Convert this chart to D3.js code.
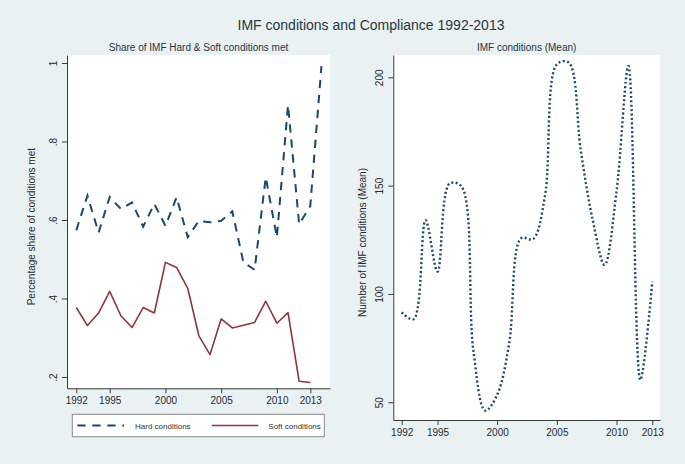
<!DOCTYPE html>
<html>
<head>
<meta charset="utf-8">
<script src="https://cdn.jsdelivr.net/npm/d3@7"></script>
<style>
  html, body { margin: 0; padding: 0; background: #e9f1f3; }
  svg { display: block; font-family: "Liberation Sans", Arial, sans-serif; }
</style>
</head>
<body>
<svg id="chart" width="685" height="464"></svg>
<script>
// ---- data ----
const years = [1992,1993,1994,1995,1996,1997,1998,1999,2000,2001,2002,2003,2004,2005,2006,2007,2008,2009,2010,2011,2012,2013];
const hardYears = [1992,1993,1994,1995,1996,1997,1998,1999,2000,2001,2002,2003,2004,2005,2006,2007,2008,2009,2010,2011,2012,2013,2014];
const hardShare = [0.574,0.662,0.568,0.659,0.628,0.645,0.583,0.641,0.585,0.658,0.556,0.598,0.594,0.598,0.622,0.492,0.473,0.709,0.556,0.893,0.589,0.636,0.992];
const softShare = [0.377,0.331,0.363,0.418,0.356,0.326,0.377,0.363,0.492,0.479,0.426,0.305,0.257,0.348,0.325,0.332,0.339,0.393,0.337,0.364,0.189,0.186];
const meanConditions = [91.5,88.3,134.0,110.3,150.9,149.7,74.1,46.1,53.4,76.9,125.7,125.3,145.0,206.0,206.8,166.4,134.3,113.4,147.2,205.2,60.3,105.7];
const xTicks = [1992,1995,2000,2005,2010,2013];
const leftYTicks = [0.2,0.4,0.6,0.8,1];
const rightYTicks = [50,100,150,200];
const mainTitle = "IMF conditions and Compliance 1992-2013";
const leftTitle = "Share of IMF Hard & Soft conditions met";
const rightTitle = "IMF conditions (Mean)";
const leftYLabel = "Percentage share of conditions met";
const rightYLabel = "Number of IMF conditions (Mean)";
const legendLabels = ["Hard conditions", "Soft conditions"];

// ---- styles ----
const navy = "#1a476f", maroon = "#90353b", txt = "#1f2a33", axisCol = "#3a3a3a";
const svg = d3.select("#chart");

svg.append("text").attr("x", 371).attr("y", 30).attr("text-anchor", "middle")
  .attr("font-size", 14).attr("fill", "#2a3540").text(mainTitle);

function fmtShare(d) { return d === 1 ? "1" : d3.format(".1f")(d).replace(/^0/, ""); }

function panel(opts) {
  const g = svg.append("g");
  const x = d3.scaleLinear().domain(opts.xDomain).range([opts.left, opts.right]);
  const y = d3.scaleLinear().domain(opts.yDomain).range([opts.bottom, opts.top]);
  g.append("rect").attr("x", opts.left).attr("y", opts.top)
    .attr("width", opts.right - opts.left).attr("height", opts.bottom - opts.top).attr("fill", "#fff");
  g.append("text").attr("x", (opts.left + opts.right) / 2).attr("y", 51)
    .attr("text-anchor", "middle").attr("font-size", 10).attr("fill", "#2a3540").text(opts.title);

  const ax = g.append("g").attr("transform", `translate(0,${opts.bottom})`)
    .call(d3.axisBottom(x).tickValues(xTicks).tickFormat(d3.format("d")).tickSize(5).tickSizeOuter(0).tickPadding(4));
  ax.selectAll("text").attr("font-size", 10).attr("fill", txt).attr("font-family", null);
  ax.selectAll("line, path").attr("stroke", axisCol);

  const ay = g.append("g").attr("transform", `translate(${opts.left},0)`)
    .call(d3.axisLeft(y).tickValues(opts.yTicks).tickFormat(opts.yFmt).tickSize(5).tickSizeOuter(0));
  ay.selectAll("text").attr("font-size", 10).attr("fill", txt).attr("font-family", null)
    .attr("transform", "rotate(-90)").attr("x", 0).attr("y", -10).attr("dy", 0)
    .attr("text-anchor", "middle");
  ay.selectAll("line, path").attr("stroke", axisCol);

  g.append("text").attr("transform", `translate(${opts.yLabelX},${(opts.top + opts.bottom) / 2 + 5}) rotate(-90)`)
    .attr("text-anchor", "middle").attr("font-size", 10).attr("fill", txt).text(opts.yLabel);
  return { g, x, y };
}

// ---- left panel ----
const L = panel({ left: 67, right: 330, top: 55, bottom: 388.3,
  xDomain: [1991.165, 2014.768], yDomain: [0.1712, 1.0204],
  yTicks: leftYTicks, yFmt: fmtShare, title: leftTitle, yLabel: leftYLabel, yLabelX: 35 });

L.g.append("path").datum(softShare.map((v, i) => [years[i], v]))
  .attr("fill", "none").attr("stroke", maroon).attr("stroke-width", 1.6).attr("stroke-linejoin", "round")
  .attr("d", d3.line().x(d => L.x(d[0])).y(d => L.y(d[1])));
L.g.append("path").datum(hardShare.map((v, i) => [hardYears[i], v]))
  .attr("fill", "none").attr("stroke", navy).attr("stroke-width", 2).attr("stroke-dasharray", "8.3,6.7")
  .attr("d", d3.line().x(d => L.x(d[0])).y(d => L.y(d[1])));

// legend
const lg = svg.append("g");
lg.append("rect").attr("x", 72.3).attr("y", 414.3).attr("width", 252).attr("height", 22.4)
  .attr("fill", "#fff").attr("stroke", "#8a8a8a").attr("stroke-width", 1);
lg.append("line").attr("x1", 77.3).attr("x2", 124).attr("y1", 425.5).attr("y2", 425.5)
  .attr("stroke", navy).attr("stroke-width", 2).attr("stroke-dasharray", "8.3,6.7");
lg.append("text").attr("x", 135).attr("y", 428.5).attr("font-size", 8).attr("fill", "#333").text(legendLabels[0]);
lg.append("line").attr("x1", 211.7).attr("x2", 258.3).attr("y1", 425.5).attr("y2", 425.5)
  .attr("stroke", maroon).attr("stroke-width", 1.6);
lg.append("text").attr("x", 268.3).attr("y", 428.5).attr("font-size", 8).attr("fill", "#333").text(legendLabels[1]);

// ---- right panel ----
const R = panel({ left: 393.3, right: 660, top: 55, bottom: 420,
  xDomain: [1991.296, 2013.645], yDomain: [41.8, 210.3],
  yTicks: rightYTicks, yFmt: d3.format("d"), title: rightTitle, yLabel: rightYLabel, yLabelX: 366 });

R.g.append("path").datum(meanConditions.map((v, i) => [years[i], v]))
  .attr("fill", "none").attr("stroke", navy).attr("stroke-width", 2.4).attr("stroke-dasharray", "2,2.4")
  .attr("d", d3.line().curve(d3.curveCatmullRom.alpha(0.5)).x(d => R.x(d[0])).y(d => R.y(d[1])));
</script>
</body>
</html>
